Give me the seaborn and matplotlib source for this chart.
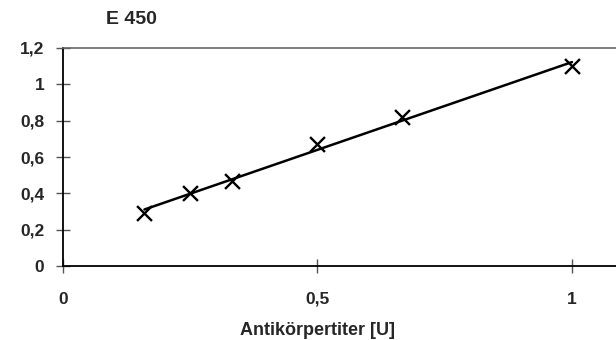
import matplotlib
matplotlib.use("Agg")
import matplotlib.pyplot as plt
import seaborn as sns
import pandas as pd
from matplotlib.ticker import FuncFormatter

titer = [0.16, 0.25, 0.333, 0.5, 0.667, 1.0]
e450 = [0.29, 0.40, 0.47, 0.67, 0.82, 1.10]
yticks = [0, 0.2, 0.4, 0.6, 0.8, 1.0, 1.2]
xticks = [0, 0.5, 1.0]

df = pd.DataFrame({"x": titer, "y": e450})

sns.set_theme(style="white")
plt.rcParams['font.family'] = ['Liberation Sans', 'DejaVu Sans']
plt.rcParams['font.weight'] = 'bold'

fig = plt.figure(figsize=(6.16, 3.40), dpi=100)
ax = fig.add_axes([63/616, 1-266/340, 1-63/616, (266-48)/340])

sns.regplot(data=df, x="x", y="y", ax=ax, ci=None, truncate=True, marker="x",
            color="black",
            scatter_kws=dict(s=115, linewidths=1.7, color="black", alpha=1),
            line_kws=dict(lw=1.8, color="black"))

ax.set_xlim(0, 1.0865)
ax.set_ylim(0, 1.2)
ax.set_xticks(xticks)
ax.set_yticks(yticks)
fmt = FuncFormatter(lambda v, p: ("%g" % v).replace(".", ","))
ax.xaxis.set_major_formatter(fmt)
ax.yaxis.set_major_formatter(fmt)

for s in ["left", "bottom"]:
    ax.spines[s].set_color("black")
    ax.spines[s].set_linewidth(1.3)
ax.spines["top"].set_color("#666666")
ax.spines["top"].set_linewidth(1.2)
ax.spines["right"].set_visible(False)

ax.tick_params(axis="both", direction="inout", length=10, width=1, color="#555555",
               labelsize=12.5, bottom=True, left=True)
ax.tick_params(axis="y", pad=8.5)
ax.tick_params(axis="x", pad=13.5)
for lab in ax.get_xticklabels() + ax.get_yticklabels():
    lab.set_fontweight("bold")

ax.set_xlabel("Antikörpertiter [U]", fontsize=13, fontweight="bold")
ax.set_ylabel("")
ax.xaxis.set_label_coords(0.5/1.0865, -0.255)
ax.grid(False)

fig.text(106/616, 1-19/340, "E 450", fontsize=14, fontweight="bold", va="center", ha="left")

fig.savefig("out.png", dpi=100)
